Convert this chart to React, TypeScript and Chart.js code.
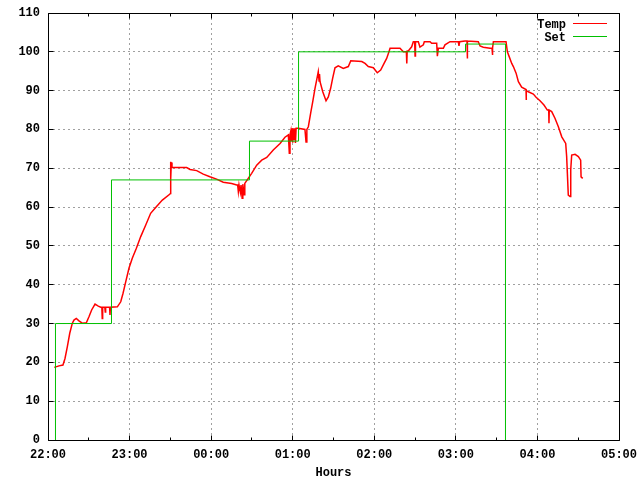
import React, { useEffect, useRef } from "react";
import { Chart, registerables } from "chart.js";

Chart.register(...registerables);

// Minutes after 22:00
const hourLabels = ["22:00", "23:00", "00:00", "01:00", "02:00", "03:00", "04:00", "05:00"];
const yTickValues = [0, 10, 20, 30, 40, 50, 60, 70, 80, 90, 100, 110];

const tempTimes = [
  4.6, 8.1, 11.0, 12.5, 14.2, 16.0, 17.9, 19.1, 20.8, 22.8, 25.2, 28.2, 30.2, 32.1, 34.6, 37.0, 38.8, 39.6, 39.9, 40.2,
  41.8, 42.1, 42.4, 45.3, 45.6, 45.9, 51.0, 53.5, 55.2, 57.2, 59.6, 62.0, 65.0, 68.2, 71.9, 75.5, 79.2, 84.1, 89.5, 90.0,
  90.1, 90.4, 90.7, 91.2, 102.0, 104.5, 109.4, 114.2, 119.1, 124.0, 128.9, 135.1, 138.8, 139.5, 140.0, 140.5, 141.5, 142.0, 142.8, 143.3,
  144.2, 144.6, 144.9, 147.3, 149.8, 153.5, 157.2, 160.9, 165.7, 170.7, 174.3, 176.8, 177.5, 178.0, 178.6, 179.0, 179.5, 180.0, 180.5, 181.0,
  181.5, 182.0, 182.5, 184.1, 189.0, 189.8, 190.4, 191.5, 193.2, 194.7, 196.4, 198.1, 198.8, 199.4, 199.7, 200.1, 202.1, 204.5, 206.2, 207.9,
  209.4, 211.1, 213.5, 217.2, 220.9, 222.7, 230.8, 233.2, 235.6, 239.3, 242.2, 244.7, 247.2, 249.1, 250.8, 251.6, 258.9, 261.4, 263.6, 263.9,
  264.2, 265.0, 267.5, 268.7, 269.7, 270.0, 270.3, 272.4, 273.6, 276.1, 276.8, 281.0, 282.2, 285.9, 286.4, 287.1, 290.8, 292.0, 295.7, 301.8,
  302.3, 302.8, 306.7, 308.2, 308.4, 308.6, 316.5, 317.8, 320.2, 325.1, 326.6, 326.8, 327.2, 327.6, 336.9, 337.9, 339.3, 341.1, 342.3, 344.3,
  346.0, 348.4, 351.6, 351.7, 351.9, 353.3, 357.0, 359.0, 361.9, 364.8, 367.3, 368.3, 368.5, 368.7, 370.5, 372.9, 375.4, 377.9, 380.8, 381.5,
  382.7, 384.0, 384.5, 385.2, 387.7, 390.1, 391.8, 392.1, 393.3,
];
const tempValues = [
  18.7, 19.1, 19.3, 21.0, 24.0, 27.5, 30.1, 30.9, 31.3, 30.7, 30.1, 30.2, 31.8, 33.5, 35.0, 34.5, 34.2, 34.2, 31.3, 34.2,
  34.2, 33.0, 34.2, 34.2, 32.2, 34.2, 34.3, 35.6, 37.8, 40.8, 44.3, 46.8, 49.4, 52.4, 55.4, 58.4, 59.9, 61.8, 63.3, 63.5,
  71.7, 67.2, 71.5, 70.2, 70.2, 69.7, 69.4, 68.5, 67.8, 67.2, 66.4, 66.1, 65.7, 65.7, 64.0, 65.7, 63.8, 65.7, 62.3, 65.9,
  63.2, 66.1, 66.1, 67.4, 68.7, 70.8, 72.1, 72.8, 74.7, 76.4, 78.0, 78.6, 73.9, 78.6, 79.6, 77.0, 80.3, 76.6, 80.3, 77.5,
  80.3, 76.5, 80.3, 80.3, 80.0, 76.8, 80.0, 80.7, 84.2, 87.1, 90.6, 93.6, 94.9, 92.5, 94.3, 92.3, 89.7, 87.4, 88.4, 90.6,
  93.2, 95.9, 96.4, 95.7, 96.2, 97.7, 97.5, 97.0, 96.2, 95.9, 94.6, 95.3, 97.0, 98.3, 100.0, 100.9, 100.9, 100.0, 100.0, 97.0,
  100.2, 100.2, 101.3, 102.6, 102.6, 98.9, 102.6, 102.6, 101.2, 101.8, 102.6, 102.6, 102.2, 102.2, 98.9, 100.9, 100.9, 101.8, 102.6, 102.6,
  101.5, 102.6, 102.8, 102.8, 98.3, 102.8, 102.6, 101.5, 101.2, 100.9, 100.9, 99.2, 101.0, 102.6, 102.6, 100.0, 98.7, 97.0, 96.2, 94.5,
  92.3, 90.9, 90.3, 87.6, 90.0, 89.7, 89.1, 88.3, 87.4, 86.3, 85.0, 85.0, 81.6, 85.0, 84.6, 82.9, 80.7, 78.1, 76.4, 73.0,
  63.1, 62.7, 69.6, 73.4, 73.6, 73.0, 72.1, 67.8, 67.4,
];

const setTimes = [5.5, 5.5, 46.7, 148.2, 184.3, 307.1, 336.5];
const setValues = [0, 30, 67, 77, 100, 102, 0];

const seriesNames = ["Temp", "Set"];
const seriesColors = ["#ff0000", "#00c000"];

const FONT = { family: "'Liberation Mono', 'DejaVu Sans Mono', monospace", size: 12, weight: "bold" as const };

const framePlugin = {
  id: "gnuplotFrame",
  beforeDatasetsDraw(chart: any) {
    const { ctx, chartArea, scales } = chart;
    const { left, right, top, bottom } = chartArea;
    const x = scales.x;
    const y = scales.y;
    ctx.save();
    ctx.strokeStyle = "#000";
    ctx.lineWidth = 1;
    ctx.setLineDash([]);
    ctx.beginPath();
    const L = Math.round(left) + 0.5;
    const R = Math.round(right) + 0.5;
    const T = Math.round(top) + 0.5;
    const B = Math.round(bottom) + 0.5;
    ctx.rect(L, T, R - L, B - T);
    for (let m = 0; m <= 420; m += 30) {
      const len = m % 60 === 0 ? 5 : 3;
      const px = Math.round(x.getPixelForValue(m) - 0.5) + 0.5;
      ctx.moveTo(px, B);
      ctx.lineTo(px, B - len);
      ctx.moveTo(px, T);
      ctx.lineTo(px, T + len);
    }
    for (const v of yTickValues) {
      const py = Math.round(y.getPixelForValue(v) - 0.5) + 0.5;
      ctx.moveTo(L, py);
      ctx.lineTo(L + 5, py);
      ctx.moveTo(R, py);
      ctx.lineTo(R - 5, py);
    }
    ctx.stroke();
    ctx.restore();
  },
  afterDatasetsDraw(chart: any) {
    const { ctx } = chart;
    ctx.save();
    ctx.setLineDash([]);
    ctx.font = `bold 12px ${FONT.family}`;
    ctx.textAlign = "right";
    ctx.textBaseline = "alphabetic";
    const rows = [28, 41];
    const lineY = [23, 36];
    seriesNames.forEach((name, i) => {
      ctx.fillStyle = "#000";
      ctx.fillText(name, 566, rows[i]);
      ctx.fillStyle = seriesColors[i];
      ctx.fillRect(573, lineY[i], 34, 1);
    });
    ctx.restore();
  },
};

export default function App() {
  const canvasRef = useRef<HTMLCanvasElement | null>(null);

  useEffect(() => {
    document.body.style.margin = "0";
    const canvas = canvasRef.current;
    if (!canvas) return;
    const chart = new Chart(canvas, {
      type: "scatter",
      data: {
        datasets: [
          {
            label: seriesNames[0],
            data: tempTimes.map((t, i) => ({ x: t, y: tempValues[i] })),
            showLine: true,
            borderColor: seriesColors[0],
            backgroundColor: seriesColors[0],
            borderWidth: 1.5,
            pointRadius: 0,
            tension: 0,
            order: 1,
          },
          {
            label: seriesNames[1],
            data: setTimes.map((t, i) => ({ x: t, y: setValues[i] })),
            showLine: true,
            stepped: true,
            borderColor: seriesColors[1],
            backgroundColor: seriesColors[1],
            borderWidth: 1,
            pointRadius: 0,
            order: 0,
          },
        ],
      },
      options: {
        animation: false,
        responsive: false,
        maintainAspectRatio: false,
        layout: { padding: { top: 13, right: 21, left: 0, bottom: 0 } },
        plugins: {
          legend: { display: false },
          tooltip: { enabled: false },
        },
        scales: {
          x: {
            type: "linear",
            min: 0,
            max: 420,
            afterFit: (s: any) => {
              s.height = 40;
              s.paddingLeft = 0;
              s.paddingRight = 0;
            },
            afterBuildTicks: (s: any) => {
              s.ticks = hourLabels.map((_, i) => ({ value: i * 60 }));
            },
            ticks: {
              autoSkip: false,
              maxRotation: 0,
              padding: 8,
              color: "#000",
              font: FONT,
              callback: (v: any) => hourLabels[Math.round(Number(v) / 60)] ?? "",
            },
            grid: { color: "#a0a0a0", drawTicks: false, lineWidth: 1 },
            border: { display: false, dash: [2, 3] },
            title: { display: true, text: "Hours", color: "#000", font: FONT, padding: 0 },
          },
          y: {
            type: "linear",
            min: 0,
            max: 110,
            afterFit: (s: any) => {
              s.width = 48;
              s.paddingTop = 0;
              s.paddingBottom = 0;
            },
            afterBuildTicks: (s: any) => {
              s.ticks = yTickValues.map((v) => ({ value: v }));
            },
            ticks: {
              autoSkip: false,
              padding: 8,
              color: "#000",
              font: FONT,
              callback: (v: any) => String(v),
            },
            grid: { color: "#a0a0a0", drawTicks: false, lineWidth: 1 },
            border: { display: false, dash: [2, 3] },
          },
        },
      },
      plugins: [framePlugin],
    });
    return () => chart.destroy();
  }, []);

  return (
    <div style={{ position: "absolute", left: 0, top: 0, width: 640, height: 480, background: "#fff" }}>
      <canvas ref={canvasRef} width={640} height={480} />
    </div>
  );
}
